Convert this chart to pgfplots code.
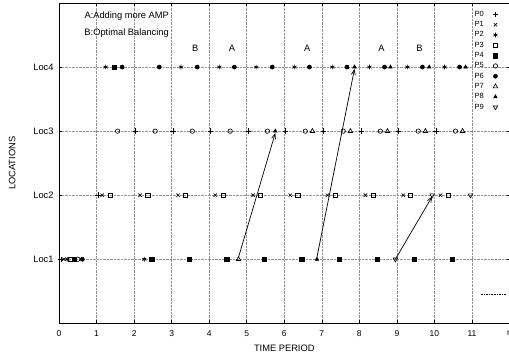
\documentclass[border=0pt]{standalone}
\usepackage{fontspec}
\setmainfont{Liberation Sans}
\usepackage{pgfplots}
\pgfplotsset{compat=1.18}
\usetikzlibrary{arrows.meta}
\begin{document}
\begin{tikzpicture}
\begin{axis}[
 scale only axis, width=450pt, height=320pt,
 xmin=0, xmax=12, ymin=0, ymax=5,
 xtick={0,1,2,3,4,5,6,7,8,9,10,11,12},
 xticklabels={0,1,2,3,4,5,6,7,8,9,10,11,n},
 ytick={1,2,3,4}, yticklabels={Loc1,Loc2,Loc3,Loc4},
 grid=major, grid style={densely dotted, gray!85, line width=0.5pt},
 axis line style={line width=0.8pt},
 tick align=inside, major tick length=3pt,
 tick style={black, line width=0.5pt},
 xticklabel style={font=\fontsize{8.5}{10}\selectfont, yshift=-4pt},
 yticklabel style={font=\fontsize{9.3}{10}\selectfont, xshift=-2pt},
 /pgf/number format/assume math mode=true,
 xlabel={TIME PERIOD}, ylabel={LOCATIONS},
 label style={font=\fontsize{9.3}{11}\selectfont},
 xlabel style={at={(axis description cs:0.5,0)}, anchor=center, yshift=-25pt},
 ylabel style={at={(axis description cs:-0.104,0.5)}, anchor=center},
 clip=false,
 legend plot pos=right,
 legend cell align=left,
 legend style={at={(axis cs:10.93,4.94)}, anchor=north west, draw=none, fill=none,
   font=\fontsize{7.5}{8}\selectfont, row sep=-0.4pt, column sep=7pt},
 every axis plot/.append style={black, line width=0.65pt},
]
% P0 plus
\addplot[only marks, mark=+, mark size=2.7pt] coordinates {
 (0.05,1) (1.04,2)
 (2.04,3) (3.04,3) (4.04,3) (5.04,3) (6.04,3) (7.04,3) (8.06,3) (9.04,3) (10.04,3)};
\addlegendentry{P0}
% P1 cross
\addplot[only marks, mark=x, mark size=2.4pt] coordinates {
 (0.13,1) (1.15,2) (2.16,2) (3.17,2) (4.16,2) (5.17,2) (6.16,2) (7.15,2) (8.16,2) (9.17,2) (10.16,2)};
\addlegendentry{P1}
% P2 asterisk
\addplot[only marks, mark=asterisk, mark size=2.4pt] coordinates {
 (0.22,1) (2.27,1)
 (1.24,4) (3.25,4) (4.27,4) (5.25,4) (6.27,4) (7.28,4) (8.27,4) (9.28,4) (10.27,4)};
\addlegendentry{P2}
% P3 open square
\addplot[only marks, mark=square, mark size=2.2pt] coordinates {
 (0.31,1) (1.36,2) (2.37,2) (3.36,2) (4.37,2) (5.36,2) (6.36,2) (7.36,2) (8.37,2) (9.36,2) (10.37,2)};
\addlegendentry{P3}
% P4 filled square
\addplot[only marks, mark=square*, mark size=2.2pt] coordinates {
 (0.40,1) (2.47,1) (3.47,1) (4.47,1) (5.47,1) (6.47,1) (7.47,1) (8.48,1) (9.47,1) (10.48,1)
 (1.47,4)};
\addlegendentry{P4}
% P5 open circle
\addplot[only marks, mark=o, mark size=2.2pt] coordinates {
 (0.50,1) (1.56,3) (2.56,3) (3.55,3) (4.56,3) (5.55,3) (6.56,3) (7.57,3) (8.56,3) (9.57,3) (10.56,3)};
\addlegendentry{P5}
% P6 filled circle
\addplot[only marks, mark=*, mark size=2pt] coordinates {
 (0.62,1) (1.68,4) (2.67,4) (3.68,4) (4.67,4) (5.68,4) (6.67,4) (7.67,4) (8.67,4) (9.68,4) (10.67,4)};
\addlegendentry{P6}
% P7 open triangle
\addplot[only marks, mark=triangle, mark size=2.6pt] coordinates {
 (4.78,1) (6.75,3) (7.76,3) (8.75,3) (9.76,3) (10.75,3)};
\addlegendentry{P7}
% P8 filled triangle
\addplot[only marks, mark=triangle*, mark size=2pt] coordinates {
 (6.87,1) (5.76,3) (7.87,4) (8.83,4) (9.86,4) (10.83,4)};
\addlegendentry{P8}
% P9 inverted triangle
\addplot[only marks, mark=triangle, mark size=2.6pt, every mark/.append style={rotate=180}] coordinates {
 (8.96,1) (9.94,2) (10.96,2)};
\addlegendentry{P9}
% arrows
\addplot[forget plot, -{Straight Barb[length=5pt,width=4pt]}, line width=0.7pt] coordinates {(4.78,1.03) (5.76,2.97)};
\addplot[forget plot, -{Straight Barb[length=5pt,width=4pt]}, line width=0.7pt] coordinates {(6.87,1.03) (7.87,3.97)};
\addplot[forget plot, -{Straight Barb[length=5pt,width=4pt]}, line width=0.7pt] coordinates {(8.96,1.0) (9.94,1.98)};
% extra dotted key line
\addplot[forget plot, densely dotted, line width=0.5pt] coordinates {(11.23,0.45) (11.9,0.45)};
% annotations
\node[anchor=east, font=\fontsize{9.3}{11}\selectfont, inner sep=0pt] at (axis cs:2.93,4.80) {A:Adding more AMP};
\node[anchor=east, font=\fontsize{9.3}{11}\selectfont, inner sep=0pt] at (axis cs:2.93,4.53) {B:Optimal Balancing};
\node[font=\fontsize{9.3}{11}\selectfont, inner sep=0pt] at (axis cs:3.63,4.30) {B};
\node[font=\fontsize{9.3}{11}\selectfont, inner sep=0pt] at (axis cs:4.61,4.30) {A};
\node[font=\fontsize{9.3}{11}\selectfont, inner sep=0pt] at (axis cs:6.61,4.30) {A};
\node[font=\fontsize{9.3}{11}\selectfont, inner sep=0pt] at (axis cs:8.59,4.30) {A};
\node[font=\fontsize{9.3}{11}\selectfont, inner sep=0pt] at (axis cs:9.60,4.30) {B};
\end{axis}
\pgfresetboundingbox
\useasboundingbox ([xshift=-59pt,yshift=-35pt]current axis.south west) rectangle ([xshift=-0.5pt,yshift=3pt]current axis.north east);
\end{tikzpicture}
\end{document}
